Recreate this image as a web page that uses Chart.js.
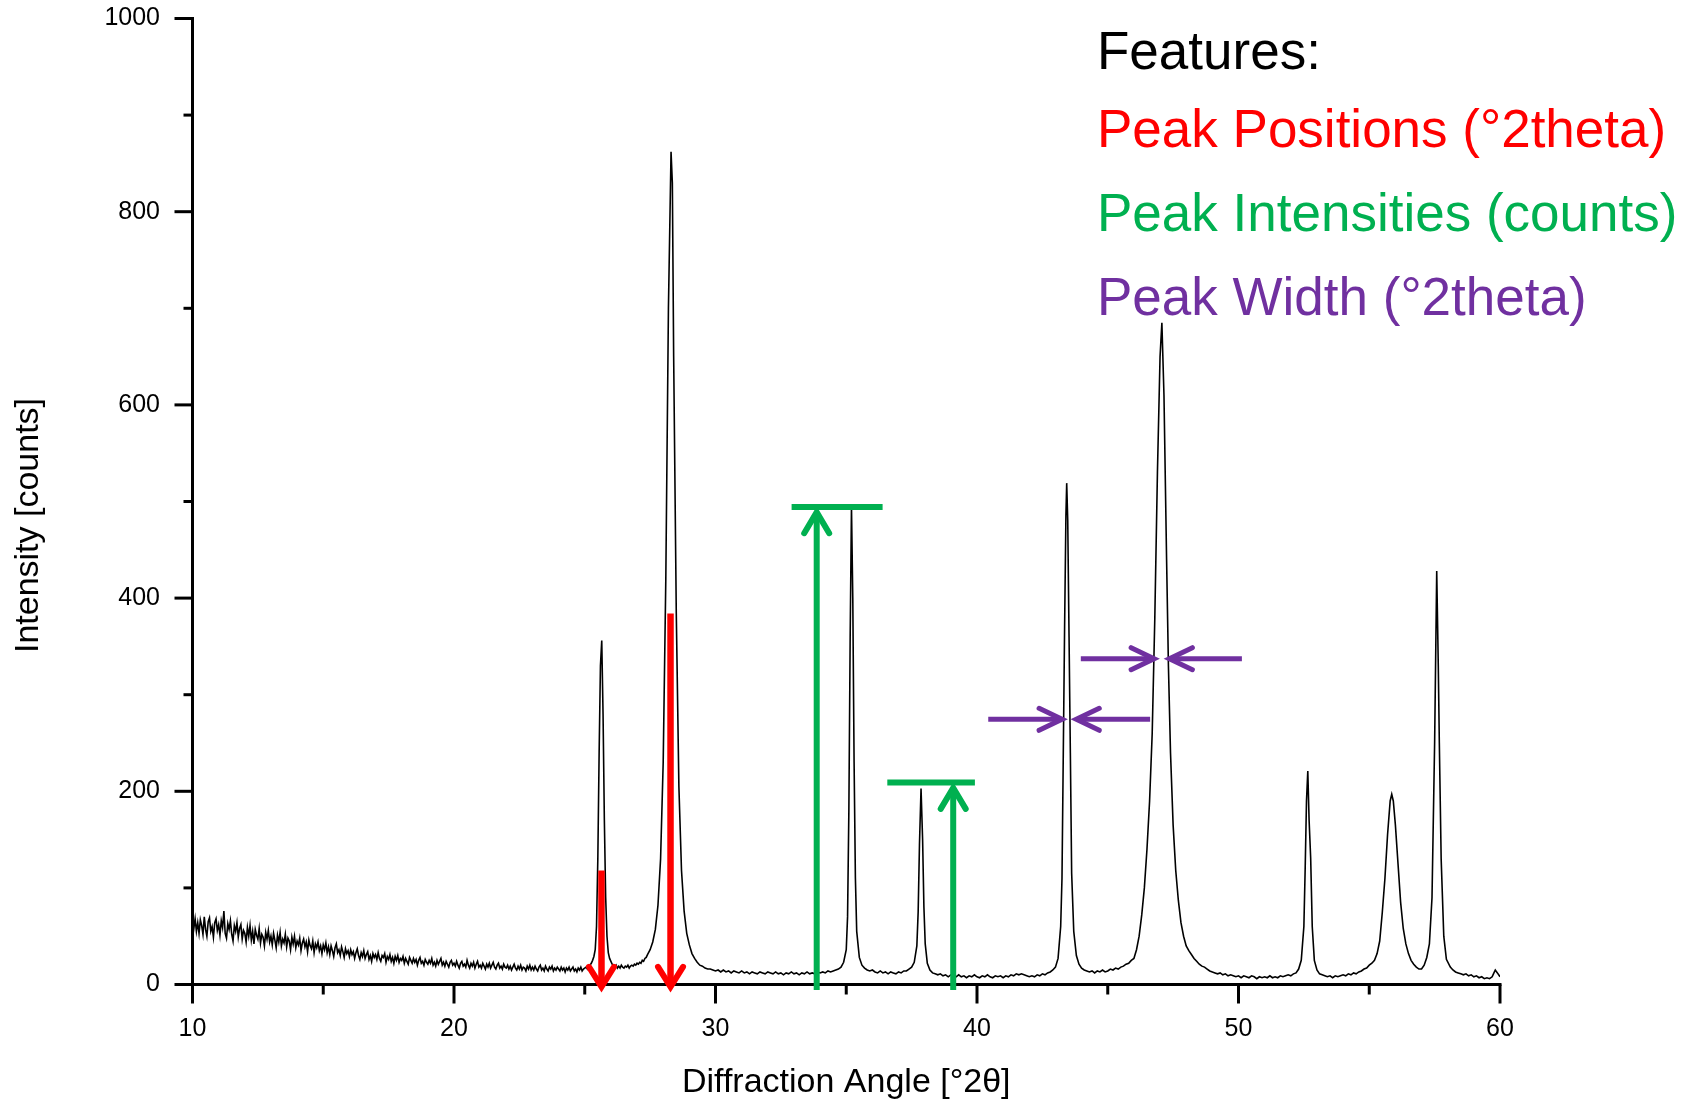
<!DOCTYPE html>
<html>
<head>
<meta charset="utf-8">
<script src="https://cdn.jsdelivr.net/npm/chart.js@4/dist/chart.umd.min.js"></script>
<style>
  html, body { margin: 0; padding: 0; background: #ffffff; }
  canvas { display: block; }
</style>
</head>
<body>
<canvas id="c" width="1698" height="1104"></canvas>
<script>
// ---------- DATA ----------
const xLimits = [10, 60];
const yLimits = [0, 1000];
const xMajorTicks = [10, 20, 30, 40, 50, 60];
const xMinorTicks = [15, 25, 35, 45, 55];
const yMajorTicks = [0, 200, 400, 600, 800, 1000];
const yMinorTicks = [100, 300, 500, 700, 900];

const xTitle = 'Diffraction Angle [°2θ]';
const yTitle = 'Intensity [counts]';
const legendTitle = 'Features:';
const legendItems = ['Peak Positions (°2theta)', 'Peak Intensities (counts)', 'Peak Width (°2theta)'];

// diffraction pattern: [angle °2θ, counts]
const pattern = [
[10.00,72],[10.05,58],[10.10,68],[10.15,55],[10.20,64],[10.25,53],[10.30,67],[10.35,61],[10.40,52],[10.45,70],
[10.50,57],[10.55,50],[10.60,65],[10.65,69],[10.70,55],[10.75,60],[10.80,49],[10.85,64],[10.90,68],[10.95,56],
[11.00,62],[11.05,51],[11.10,66],[11.15,59],[11.20,76],[11.25,53],[11.30,48],[11.35,63],[11.40,57],[11.45,66],
[11.50,52],[11.55,45],[11.60,61],[11.65,55],[11.70,64],[11.75,49],[11.80,58],[11.85,62],[11.90,47],[11.95,56],
[12.00,53],[12.05,44],[12.10,59],[12.15,50],[12.20,61],[12.25,46],[12.30,55],[12.35,42],[12.40,57],[12.45,51],
[12.50,47],[12.55,58],[12.60,43],[12.65,52],[12.70,49],[12.75,40],[12.80,54],[12.85,47],[12.90,56],[12.95,44],
[13.00,50],[13.05,41],[13.10,53],[13.15,46],[13.20,38],[13.25,51],[13.30,44],[13.35,54],[13.40,40],[13.45,47],
[13.50,43],[13.55,52],[13.60,39],[13.65,48],[13.70,45],[13.75,36],[13.80,49],[13.85,42],[13.90,50],[13.95,38],
[14.00,45],[14.05,41],[14.10,48],[14.15,35],[14.20,43],[14.25,47],[14.30,39],[14.35,44],[14.40,34],[14.45,46],
[14.50,40],[14.55,37],[14.60,45],[14.65,33],[14.70,42],[14.75,38],[14.80,44],[14.85,35],[14.90,40],[14.95,32],
[15.00,41],[15.05,36],[15.10,43],[15.15,33],[15.20,39],[15.25,31],[15.30,40],[15.35,35],[15.40,29],[15.45,38],
[15.50,42],[15.55,33],[15.60,36],[15.65,30],[15.70,39],[15.75,34],[15.80,28],[15.85,37],[15.90,32],[15.95,35],
[16.00,29],[16.05,36],[16.10,31],[16.15,34],[16.20,27],[16.25,33],[16.30,37],[16.35,30],[16.40,26],[16.45,33],
[16.50,29],[16.55,35],[16.60,27],[16.65,31],[16.70,34],[16.75,26],[16.80,30],[16.85,24],[16.90,32],[16.95,28],
[17.00,31],[17.05,26],[17.10,33],[17.15,27],[17.20,24],[17.25,30],[17.30,28],[17.35,32],[17.40,23],[17.45,29],
[17.50,26],[17.55,31],[17.60,24],[17.65,28],[17.70,22],[17.75,29],[17.80,25],[17.85,30],[17.90,23],[17.95,27],
[18.00,25],[18.05,29],[18.10,22],[18.15,27],[18.20,24],[18.25,21],[18.30,28],[18.35,25],[18.40,22],[18.45,27],
[18.50,23],[18.55,26],[18.60,20],[18.65,25],[18.70,28],[18.75,22],[18.80,24],[18.85,20],[18.90,26],[18.95,23],
[19.00,21],[19.05,25],[19.10,22],[19.15,27],[19.20,20],[19.25,23],[19.30,19],[19.35,25],[19.40,21],[19.45,24],
[19.50,27],[19.55,20],[19.60,23],[19.65,19],[19.70,24],[19.75,21],[19.80,18],[19.85,23],[19.90,25],[19.95,20],
[20.00,22],[20.05,19],[20.10,24],[20.15,20],[20.20,17],[20.25,22],[20.30,24],[20.35,19],[20.40,21],[20.45,18],
[20.50,25],[20.55,20],[20.60,17],[20.65,22],[20.70,19],[20.75,23],[20.80,17],[20.85,21],[20.90,24],[20.95,18],
[21.00,20],[21.05,17],[21.10,22],[21.15,19],[21.20,16],[21.25,21],[21.30,18],[21.35,22],[21.40,17],[21.45,20],
[21.50,23],[21.55,18],[21.60,16],[21.65,20],[21.70,22],[21.75,17],[21.80,19],[21.85,16],[21.90,21],[21.95,18],
[22.00,17],[22.05,20],[22.10,16],[22.15,19],[22.20,15],[22.25,18],[22.30,21],[22.35,17],[22.40,15],[22.45,19],
[22.50,16],[22.55,20],[22.60,15],[22.65,18],[22.70,17],[22.75,14],[22.80,19],[22.85,16],[22.90,20],[22.95,15],
[23.00,18],[23.05,15],[23.10,19],[23.15,16],[23.20,14],[23.25,18],[23.30,20],[23.35,15],[23.40,17],[23.45,14],
[23.50,19],[23.55,16],[23.60,14],[23.65,18],[23.70,16],[23.75,19],[23.80,14],[23.85,17],[23.90,15],[23.95,18],
[24.00,16],[24.05,14],[24.10,18],[24.15,15],[24.20,17],[24.25,13],[24.30,17],[24.35,15],[24.40,18],[24.45,14],
[24.50,16],[24.55,18],[24.60,14],[24.65,16],[24.70,13],[24.75,17],[24.80,15],[24.85,18],[24.90,14],[24.95,16],
[25.00,17],[25.05,18],[25.10,16],[25.15,19],[25.20,20],[25.25,22],[25.30,25],[25.35,29],[25.40,36],[25.45,60],
[25.50,130],[25.55,240],[25.60,330],[25.65,356],[25.70,280],[25.75,170],[25.80,90],[25.85,50],[25.90,33],[25.95,27],
[26.00,24],[26.05,21],[26.10,20],[26.15,18],[26.20,20],[26.25,17],[26.30,19],[26.35,17],[26.40,20],[26.45,18],
[26.50,17],[26.55,19],[26.60,18],[26.65,20],[26.70,17],[26.75,19],[26.80,20],[26.85,19],[26.90,21],[26.95,20],
[27.00,22],[27.05,21],[27.10,23],[27.15,22],[27.20,25],[27.25,24],[27.30,27],[27.35,28],[27.40,31],[27.50,36],
[27.60,44],[27.70,57],[27.80,82],[27.90,130],[28.00,230],[28.10,420],[28.20,700],[28.30,862],[28.35,830],[28.40,650],
[28.50,385],[28.60,205],[28.70,118],[28.80,76],[28.90,53],[29.00,41],[29.10,32],[29.20,27],[29.30,23],[29.40,20],
[29.50,19],[29.60,17],[29.70,16],[29.80,16],[29.90,15],
[30.0,14],[30.1,15],[30.2,13],[30.3,15],[30.4,13],[30.5,14],[30.6,12],[30.7,14],[30.8,13],[30.9,12],
[31.0,14],[31.1,12],[31.2,13],[31.3,11],[31.4,13],[31.5,12],[31.6,11],[31.7,13],[31.8,12],[31.9,11],
[32.0,13],[32.1,12],[32.2,11],[32.3,13],[32.4,11],[32.5,12],[32.6,10],[32.7,12],[32.8,11],[32.9,13],
[33.0,11],[33.1,12],[33.2,10],[33.3,12],[33.4,11],[33.5,13],[33.6,11],[33.7,12],[33.8,11],[33.9,13],
[34.0,12],[34.1,13],[34.2,12],[34.3,14],[34.4,13],[34.5,14],[34.6,15],[34.7,16],[34.8,18],[34.9,23],
[35.0,36],[35.05,70],[35.1,180],[35.15,360],[35.2,495],[35.25,400],[35.3,230],[35.35,110],[35.4,55],[35.5,28],
[35.6,20],[35.7,17],[35.8,15],[35.9,14],[36.0,15],[36.1,13],[36.2,12],[36.3,14],[36.4,12],[36.5,13],
[36.6,11],[36.7,13],[36.8,12],[36.9,11],[37.0,13],[37.1,12],[37.2,14],[37.3,14],[37.4,16],[37.5,18],
[37.6,23],[37.7,40],[37.75,75],[37.8,145],[37.86,203],[37.92,150],[37.97,80],[38.02,42],[38.1,22],[38.2,15],
[38.3,12],[38.4,11],[38.5,10],[38.6,11],[38.7,9],[38.8,10],[38.9,8],[39.0,10],[39.1,9],[39.2,8],
[39.3,10],[39.4,8],[39.5,9],[39.6,7],[39.7,9],[39.8,8],[39.9,10],[40.0,8],[40.1,7],[40.2,9],
[40.3,8],[40.4,10],[40.5,8],[40.6,7],[40.7,9],[40.8,8],[40.9,9],[41.0,7],[41.1,9],[41.2,8],
[41.3,10],[41.4,9],[41.5,11],[41.6,10],[41.7,11],[41.8,10],[41.9,9],[42.0,8],[42.1,9],[42.2,8],
[42.3,10],[42.4,9],[42.5,11],[42.6,10],[42.7,12],[42.8,13],[42.9,15],[43.0,18],[43.1,27],[43.2,60],
[43.25,110],[43.3,240],[43.35,370],[43.4,485],[43.43,519],[43.47,480],[43.52,360],[43.57,240],[43.62,115],[43.7,55],
[43.8,30],[43.9,21],[44.0,17],[44.1,15],[44.2,14],[44.3,13],[44.4,14],[44.5,12],[44.6,14],[44.7,13],
[44.8,15],[44.9,13],[45.0,14],[45.1,16],[45.2,15],[45.3,17],[45.4,16],[45.5,18],[45.6,19],[45.7,21],
[45.8,22],[45.9,25],[46.0,27],[46.1,36],[46.2,50],[46.3,72],[46.4,100],[46.5,140],[46.6,190],[46.7,260],
[46.8,380],[46.9,530],[47.0,650],[47.07,685],[47.15,610],[47.25,440],[47.32,330],[47.4,240],[47.5,165],[47.6,118],
[47.7,87],[47.8,64],[47.9,50],[48.0,40],[48.1,35],[48.2,31],[48.3,27],[48.4,24],[48.5,21],[48.6,19],
[48.7,18],[48.8,16],[48.9,14],[49.0,13],[49.1,12],[49.2,11],[49.3,12],[49.4,10],[49.5,11],[49.6,9],
[49.7,10],[49.8,9],[49.9,8],[50.0,9],[50.1,7],[50.2,9],[50.3,8],[50.4,7],[50.5,9],[50.6,8],
[50.7,6],[50.8,8],[50.9,7],[51.0,8],[51.1,7],[51.2,9],[51.3,7],[51.4,8],[51.5,7],[51.6,9],
[51.7,8],[51.8,9],[51.9,10],[52.0,9],[52.1,11],[52.2,12],[52.3,16],[52.4,25],[52.5,60],[52.55,120],
[52.6,190],[52.65,221],[52.7,170],[52.76,131],[52.82,60],[52.9,25],[53.0,15],[53.1,11],[53.2,10],[53.3,9],
[53.4,8],[53.5,9],[53.6,7],[53.7,9],[53.8,8],[53.9,9],[54.0,10],[54.1,9],[54.2,11],[54.3,10],
[54.4,12],[54.5,11],[54.6,13],[54.7,14],[54.8,16],[54.9,17],[55.0,20],[55.1,22],[55.2,25],[55.3,32],
[55.4,45],[55.5,75],[55.6,110],[55.7,155],[55.8,190],[55.86,197],[55.92,190],[56.0,165],[56.1,125],[56.2,85],
[56.3,58],[56.4,42],[56.5,32],[56.6,25],[56.7,21],[56.8,18],[56.9,16],[57.0,16],[57.1,20],[57.2,28],
[57.3,42],[57.4,90],[57.5,250],[57.58,428],[57.64,330],[57.68,250],[57.75,130],[57.85,50],[57.95,26],[58.1,18],
[58.2,15],[58.3,13],[58.4,12],[58.5,11],[58.6,10],[58.7,11],[58.8,9],[58.9,10],[59.0,8],[59.1,9],
[59.2,7],[59.3,8],[59.4,6],[59.5,7],[59.6,6],[59.7,8],[59.75,11],[59.82,15],[59.9,12],[60.0,8]
];

// annotation markers, in data units (°2θ, counts)
const positionMarkers = [
  { angle: 25.64, top: 118, tip: -4.5 },
  { angle: 28.28, top: 384, tip: -4.5 }
];
const intensityMarkers = [
  { angle: 33.87, base: -5.7, tip: 491, level: 494.2, from: 32.91, to: 36.39 },
  { angle: 39.09, base: -5.7, tip: 205.6, level: 209, from: 36.57, to: 39.92 }
];
const widthMarkers = [
  { level: 274.5, leftFrom: 40.43, leftTip: 43.33, rightFrom: 46.62, rightTip: 43.72 },
  { level: 337.3, leftFrom: 43.97, leftTip: 46.85, rightFrom: 50.13, rightTip: 47.28 }
];

// ---------- STYLE ----------
const FONT = "'Liberation Sans', Arial, Helvetica, sans-serif";
const RED = '#FF0000', GREEN = '#00B050', PURPLE = '#7030A0';

function seg(ctx, x1, y1, x2, y2) {
  ctx.beginPath(); ctx.moveTo(x1, y1); ctx.lineTo(x2, y2); ctx.stroke();
}
function head(ctx, tx, ty, dx, dy, back, half) {
  const nx = -dy, ny = dx;
  ctx.beginPath();
  ctx.moveTo(tx - dx * back + nx * half, ty - dy * back + ny * half);
  ctx.lineTo(tx, ty);
  ctx.lineTo(tx - dx * back - nx * half, ty - dy * back - ny * half);
  ctx.stroke();
}

const overlay = {
  id: 'overlay',
  afterDatasetsDraw(chart) {
    const { ctx } = chart;
    const xs = chart.scales.x, ys = chart.scales.y;
    const X = v => xs.getPixelForValue(v), Y = v => ys.getPixelForValue(v);
    const x0 = X(xLimits[0]), x1 = X(xLimits[1]);
    const y0 = Y(yLimits[0]), y1 = Y(yLimits[1]);
    ctx.save();
    ctx.strokeStyle = '#000';
    ctx.lineWidth = 3;
    ctx.lineCap = 'butt';
    seg(ctx, x0, y1 - 1.5, x0, y0 + 1.5);
    seg(ctx, x0 - 1.5, y0, x1 + 1.5, y0);
    yMajorTicks.forEach(v => seg(ctx, x0 - 18, Y(v), x0, Y(v)));
    yMinorTicks.forEach(v => seg(ctx, x0 - 9, Y(v), x0, Y(v)));
    xMajorTicks.forEach(v => seg(ctx, X(v), y0, X(v), y0 + 19));
    xMinorTicks.forEach(v => seg(ctx, X(v), y0, X(v), y0 + 10));

    // red: peak positions
    ctx.strokeStyle = RED;
    positionMarkers.forEach(m => {
      const px = X(m.angle), tipY = Y(m.tip);
      ctx.lineWidth = 6.5; ctx.lineCap = 'butt';
      seg(ctx, px, Y(m.top), px, tipY - 3);
      ctx.lineWidth = 6;
      ctx.lineCap = 'round'; ctx.lineJoin = 'miter';
      head(ctx, px, tipY - 2, 0, 1, 20, 12.5);
    });

    // green: peak intensities
    ctx.strokeStyle = GREEN;
    intensityMarkers.forEach(m => {
      const px = X(m.angle), tipY = Y(m.tip);
      ctx.lineWidth = 6; ctx.lineCap = 'butt';
      seg(ctx, px, Y(m.base), px, tipY + 3);
      seg(ctx, X(m.from), Y(m.level), X(m.to), Y(m.level));
      ctx.lineCap = 'round'; ctx.lineJoin = 'miter';
      head(ctx, px, tipY + 2, 0, -1, 21, 12.5);
    });

    // purple: peak widths
    ctx.strokeStyle = PURPLE;
    widthMarkers.forEach(m => {
      const py = Y(m.level);
      ctx.lineWidth = 5; ctx.lineCap = 'butt';
      seg(ctx, X(m.leftFrom), py, X(m.leftTip) - 3, py);
      seg(ctx, X(m.rightFrom), py, X(m.rightTip) + 3, py);
      ctx.lineCap = 'round'; ctx.lineJoin = 'miter';
      head(ctx, X(m.leftTip) - 2, py, 1, 0, 23, 11);
      head(ctx, X(m.rightTip) + 2, py, -1, 0, 23, 11);
    });
    ctx.restore();
  },
  afterDraw(chart) {
    const { ctx } = chart;
    const ys = chart.scales.y;
    ctx.save();
    ctx.fillStyle = '#000';
    ctx.font = `34px ${FONT}`;
    ctx.textAlign = 'center';
    ctx.textBaseline = 'alphabetic';
    ctx.translate(37.5, (ys.top + ys.bottom) / 2 + 24);
    ctx.rotate(-Math.PI / 2);
    ctx.fillText(yTitle, 0, 0);
    ctx.restore();

    ctx.save();
    ctx.font = `53px ${FONT}`;
    ctx.textAlign = 'left';
    ctx.textBaseline = 'alphabetic';
    const lx = 1097;
    ctx.fillStyle = '#000';
    ctx.fillText(legendTitle, lx, 69);
    const colors = [RED, GREEN, PURPLE];
    const baselines = [147, 231, 315];
    legendItems.forEach((t, i) => {
      ctx.fillStyle = colors[i];
      ctx.fillText(t, lx, baselines[i]);
    });
    ctx.restore();
  }
};

new Chart(document.getElementById('c'), {
  type: 'line',
  data: {
    datasets: [{
      data: pattern.map(([a, c]) => ({ x: a, y: c })),
      borderColor: '#000',
      borderWidth: 1.6,
      pointRadius: 0,
      tension: 0,
      fill: false
    }]
  },
  options: {
    responsive: false,
    animation: false,
    devicePixelRatio: 1,
    layout: { padding: { top: 18.5, right: 198, bottom: 0, left: 0 } },
    plugins: { legend: { display: false }, tooltip: { enabled: false }, title: { display: false } },
    scales: {
      x: {
        type: 'linear',
        min: xLimits[0], max: xLimits[1],
        ticks: { stepSize: 10, padding: 30, color: '#000', maxRotation: 0, font: { family: FONT, size: 25 }, callback: v => String(v) },
        grid: { display: false, drawTicks: false },
        border: { display: false },
        title: { display: true, text: xTitle, color: '#000', font: { family: FONT, size: 34 }, padding: { top: 0, bottom: 1 } },
        afterFit: s => { s.height = 119.5; s.paddingLeft = 0; s.paddingRight = 0; }
      },
      y: {
        type: 'linear',
        min: yLimits[0], max: yLimits[1],
        ticks: { stepSize: 200, padding: 32.5, color: '#000', font: { family: FONT, size: 25 }, callback: v => String(v) },
        grid: { display: false, drawTicks: false },
        border: { display: false },
        afterFit: s => { s.width = 192.5; s.paddingTop = 0; s.paddingBottom = 0; }
      }
    }
  },
  plugins: [overlay]
});
</script>
</body>
</html>
